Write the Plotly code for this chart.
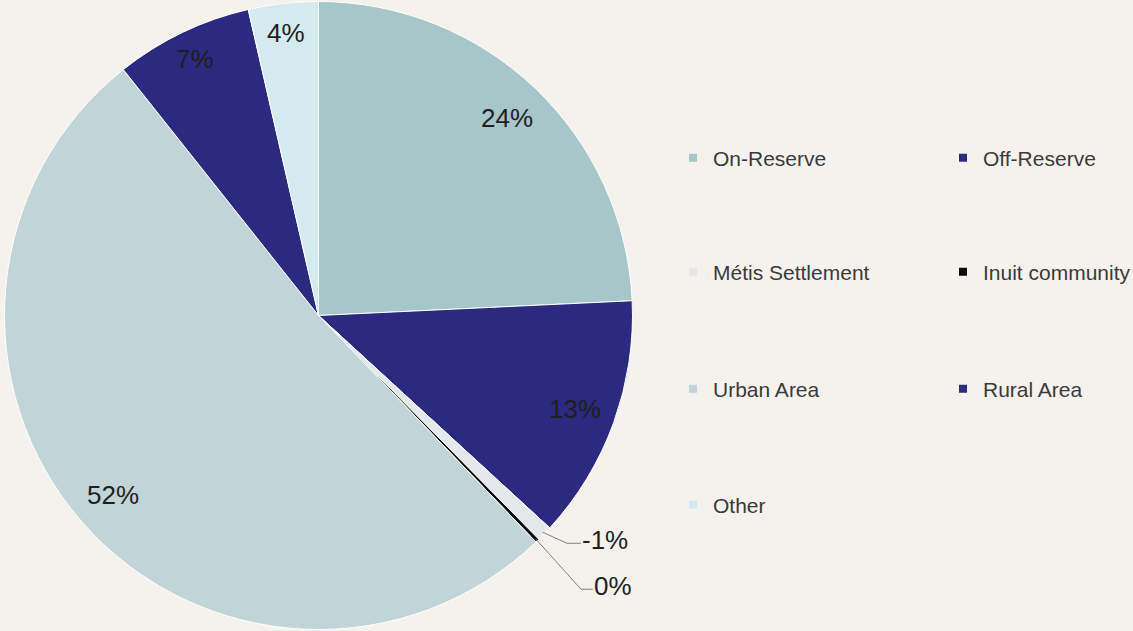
import math
import plotly.graph_objects as go

# Share of respondents by place of residence (%); Métis Settlement is a negative entry
categories = ["On-Reserve", "Off-Reserve", "Métis Settlement", "Inuit community",
              "Urban Area", "Rural Area", "Other"]
shares = [24.3, 12.6, -0.8, 0.2, 51.6, 7.1, 3.6]
colors = ["#a6c6c9", "#2b2a80", "#e4e8ea", "#0d0d0d", "#c1d4d7", "#2b2a80", "#d3eaee"]

W, H = 1133, 631
BG = "#f5f2ee"
FONT = "Arial, Liberation Sans, sans-serif"

# pie geometry (paper domain -> pixels, margins are zero)
dom_x = [4.5 / W, 632.5 / W]
dom_y = [1.5 / H, 629.5 / H]
cx = (dom_x[0] + dom_x[1]) / 2 * W
cy = (1 - (dom_y[0] + dom_y[1]) / 2) * H
R = min((dom_x[1] - dom_x[0]) * W, (dom_y[1] - dom_y[0]) * H) / 2

sizes = [abs(v) for v in shares]
labels_txt = [f"{v:.0f}%" for v in shares]
total = sum(sizes)

fig = go.Figure()
fig.add_trace(go.Pie(
    labels=categories, values=sizes, sort=False, direction="clockwise", rotation=0,
    marker=dict(colors=colors, line=dict(color="#ffffff", width=1)),
    textinfo="none", hoverinfo="label+percent", showlegend=False,
    domain=dict(x=dom_x, y=dom_y),
))


def px_to_paper(x, y):
    return x / W, 1 - y / H


def polar(angle_deg, radius):
    a = math.radians(angle_deg)
    return cx + radius * math.sin(a), cy - radius * math.cos(a)


LABEL_FONT = dict(family=FONT, size=26, color="#1f1f1f")
annotations = []
shapes = []
cum = 0.0
# small slices get an outside label with a bent leader line: (elbow dx, dy, tail length)
leaders = {2: (24, 11, 14), 3: (45, 50, 12)}
for i, (s, txt) in enumerate(zip(sizes, labels_txt)):
    mid = (cum + s / 2) / total * 360
    cum += s
    if i in leaders:
        ex, ey = polar(mid, R - 2)
        ddx, ddy, tail = leaders[i]
        kx, ky = ex + ddx, ey + ddy
        tx = kx + tail
        p0 = px_to_paper(ex, ey)
        p1 = px_to_paper(kx, ky)
        p2 = px_to_paper(tx, ky)
        shapes.append(dict(type="path", xref="paper", yref="paper",
                           path=f"M {p0[0]},{p0[1]} L {p1[0]},{p1[1]} L {p2[0]},{p2[1]}",
                           line=dict(color="#7f7f7f", width=1)))
        lx, ly = px_to_paper(tx - 1, ky - 3)
        annotations.append(dict(x=lx, y=ly, xref="paper", yref="paper", text=txt,
                                showarrow=False, xanchor="left", yanchor="middle",
                                font=LABEL_FONT))
    else:
        # labels sit near the outer edge; narrow slices push them a bit further out
        frac = 0.87 if s / total > 0.1 else 0.905
        x, y = polar(mid, R * frac)
        lx, ly = px_to_paper(x, y)
        annotations.append(dict(x=lx, y=ly, xref="paper", yref="paper", text=txt,
                                showarrow=False, xanchor="center", yanchor="middle",
                                font=LABEL_FONT))

# legend: two columns, four rows, one legend per row
rows = [[0, 1], [2, 3], [4, 5], [6]]
row_y = [158, 272, 389, 505]
legend_names = ["legend", "legend2", "legend3", "legend4"]
for r, idxs in enumerate(rows):
    for col, i in enumerate(idxs):
        fig.add_trace(go.Scatter(
            x=[None], y=[None], mode="markers", name=categories[i],
            marker=dict(symbol="square", size=8, color=colors[i]),
            legend=legend_names[r], hoverinfo="skip",
            legendwidth=225 if col == 0 else 150,
        ))

layout_legends = {}
for r, name in enumerate(legend_names):
    layout_legends[name] = dict(
        orientation="h", x=(713 - 40) / W, xanchor="left",
        y=1 - row_y[r] / H, yanchor="middle",
        entrywidthmode="pixels",
        bgcolor="rgba(0,0,0,0)", borderwidth=0,
        font=dict(family=FONT, size=21, color="#3a3a3a"),
        itemclick=False, itemdoubleclick=False,
    )

fig.update_layout(
    width=W, height=H,
    margin=dict(l=0, r=0, t=0, b=0, autoexpand=False),
    paper_bgcolor=BG, plot_bgcolor=BG,
    xaxis=dict(visible=False), yaxis=dict(visible=False),
    annotations=annotations, shapes=shapes,
    **layout_legends,
)

fig.write_html("out.html")
